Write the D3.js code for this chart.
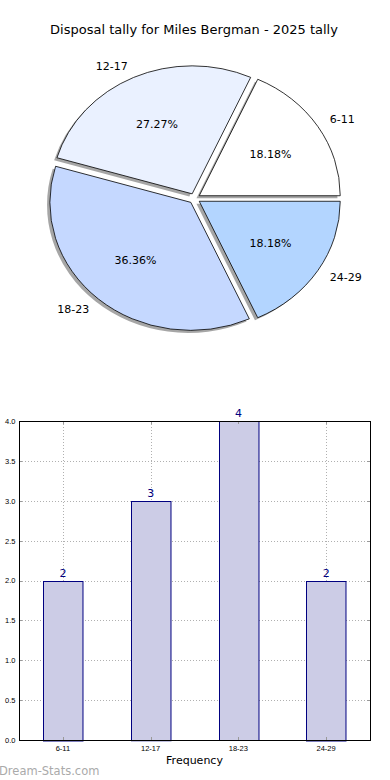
<!DOCTYPE html>
<html>
<head>
<meta charset="utf-8">
<script src="https://cdn.jsdelivr.net/npm/d3@7"></script>
<style>
  body { margin: 0; background: #fff; }
  svg { display: block; font-family: "DejaVu Sans", sans-serif; }
</style>
</head>
<body>
<div id="chart"></div>
<script>
const categories = ["6-11", "12-17", "18-23", "24-29"];
const counts = [2, 3, 4, 2];
const pieColors = ["#ffffff", "#eaf1ff", "#c5d8ff", "#b3d5ff"];
const yTicks = [0, 0.5, 1, 1.5, 2, 2.5, 3, 3.5, 4];

const title = "Disposal tally for Miles Bergman - 2025 tally";

const W = 390, H = 780;
const svg = d3.select("#chart").append("svg")
    .attr("width", W)
    .attr("height", H);

svg.append("text")
    .attr("x", 194)
    .attr("y", 34)
    .attr("text-anchor", "middle")
    .style("font-size", "13px")
    .text(title);

// ---- pie (matplotlib style: counter-clockwise from 3 o'clock, elliptical) ----
const cx = 194.5, cy = 198.5, rx = 141, ry = 128;
const explode = 0.04;
const total = d3.sum(counts);

let acc = 0;
const slices = counts.map((v, i) => {
    const t1 = acc / total * 2 * Math.PI;
    acc += v;
    const t2 = acc / total * 2 * Math.PI;
    return { i, v, t1, t2, mid: (t1 + t2) / 2 };
});

const arc = d3.arc().innerRadius(0).outerRadius(1);

const pieG = svg.append("g")
    .attr("transform", `translate(${cx},${cy}) scale(${rx},${ry})`);

// shadows first
pieG.selectAll(".shadow")
    .data(slices)
    .enter()
    .append("path")
    .attr("class", "shadow")
    .attr("transform", d => `translate(${explode * Math.cos(d.mid) - 0.02},${-explode * Math.sin(d.mid) + 0.02})`)
    .attr("d", d => arc({ startAngle: Math.PI / 2 - d.t1, endAngle: Math.PI / 2 - d.t2 }))
    .attr("fill", "#4d4d4d")
    .attr("opacity", 0.5);

pieG.selectAll(".slice")
    .data(slices)
    .enter()
    .append("path")
    .attr("class", "slice")
    .attr("transform", d => `translate(${explode * Math.cos(d.mid)},${-explode * Math.sin(d.mid)})`)
    .attr("d", d => arc({ startAngle: Math.PI / 2 - d.t1, endAngle: Math.PI / 2 - d.t2 }))
    .attr("fill", d => pieColors[d.i])
    .attr("stroke", "#000")
    .attr("stroke-width", 0.8)
    .attr("vector-effect", "non-scaling-stroke");

function piePos(d, k) {
    const c = Math.cos(d.mid), s = Math.sin(d.mid);
    return [cx + (k + explode) * c * rx, cy - (k + explode) * s * ry];
}

svg.selectAll(".pie-label")
    .data(slices)
    .enter()
    .append("text")
    .attr("x", d => piePos(d, 1.1)[0])
    .attr("y", d => piePos(d, 1.1)[1])
    .attr("dy", "0.35em")
    .attr("text-anchor", d => Math.cos(d.mid) >= 0 ? "start" : "end")
    .style("font-size", "11px")
    .text(d => categories[d.i]);

svg.selectAll(".pie-pct")
    .data(slices)
    .enter()
    .append("text")
    .attr("x", d => piePos(d, 0.6)[0])
    .attr("y", d => piePos(d, 0.6)[1])
    .attr("dy", "0.35em")
    .attr("text-anchor", "middle")
    .style("font-size", "11px")
    .text(d => (d.v / total * 100).toFixed(2) + "%");

// ---- bar chart ----
const plot = { left: 19, right: 370, top: 421, bottom: 740 };

const x = d3.scaleBand()
    .domain(categories)
    .range([plot.left, plot.right])
    .paddingInner(0.55)
    .paddingOuter(0.275);

const y = d3.scaleLinear()
    .domain([0, 4])
    .range([plot.bottom, plot.top]);

const xMid = d => Math.round(x(d) + x.bandwidth() / 2) + 0.5;
const yPix = d => Math.round(y(d)) + 0.5;

const grid = svg.append("g")
    .attr("stroke", "#b0b0b0")
    .attr("stroke-width", 1)
    .attr("stroke-dasharray", "1,2");

grid.selectAll(".hgrid")
    .data(yTicks)
    .enter()
    .append("line")
    .attr("x1", plot.left)
    .attr("x2", plot.right)
    .attr("y1", yPix)
    .attr("y2", yPix);

svg.selectAll(".bar")
    .data(categories)
    .enter()
    .append("rect")
    .attr("x", d => Math.round(x(d)) + 0.5)
    .attr("y", (d, i) => yPix(counts[i]))
    .attr("width", x.bandwidth())
    .attr("height", (d, i) => y(0) - y(counts[i]))
    .attr("fill", "#cccce6")
    .attr("stroke", "#000080")
    .attr("stroke-width", 1);

grid.selectAll(".vgrid")
    .data(categories)
    .enter()
    .append("line")
    .attr("x1", xMid)
    .attr("x2", xMid)
    .attr("y1", plot.top)
    .attr("y2", plot.bottom);

// small inward tick marks on all four sides
const ticks = svg.append("g").attr("stroke", "#999").attr("stroke-width", 1);
yTicks.forEach(t => {
    ticks.append("line").attr("x1", plot.left).attr("x2", plot.left + 3).attr("y1", yPix(t)).attr("y2", yPix(t));
    ticks.append("line").attr("x1", plot.right - 3).attr("x2", plot.right).attr("y1", yPix(t)).attr("y2", yPix(t));
});
categories.forEach(c => {
    ticks.append("line").attr("x1", xMid(c)).attr("x2", xMid(c)).attr("y1", plot.bottom - 3).attr("y2", plot.bottom);
    ticks.append("line").attr("x1", xMid(c)).attr("x2", xMid(c)).attr("y1", plot.top).attr("y2", plot.top + 3);
});

svg.selectAll(".bar-val")
    .data(categories)
    .enter()
    .append("text")
    .attr("x", d => x(d) + x.bandwidth() / 2)
    .attr("y", (d, i) => y(counts[i]) - 4)
    .attr("text-anchor", "middle")
    .attr("fill", "#000080")
    .style("font-size", "11px")
    .text((d, i) => counts[i]);

// frame
svg.append("rect")
    .attr("x", plot.left + 0.5)
    .attr("y", plot.top + 0.5)
    .attr("width", plot.right - plot.left)
    .attr("height", plot.bottom - plot.top)
    .attr("fill", "none")
    .attr("stroke", "#000")
    .attr("stroke-width", 1);

const yAxis = svg.append("g")
    .attr("transform", `translate(${plot.left + 0.5},0)`)
    .call(d3.axisLeft(y).tickValues(yTicks).tickFormat(d3.format(".1f")).tickSize(0).tickPadding(4));
yAxis.select(".domain").remove();
yAxis.selectAll("text").style("font-size", "7.5px").attr("fill", "#000");

const xAxis = svg.append("g")
    .attr("transform", `translate(0,${plot.bottom + 0.5})`)
    .call(d3.axisBottom(x).tickSize(0).tickPadding(5));
xAxis.select(".domain").remove();
xAxis.selectAll("text").style("font-size", "7.5px").attr("fill", "#000");

svg.append("text")
    .attr("x", (plot.left + plot.right) / 2)
    .attr("y", 764)
    .attr("text-anchor", "middle")
    .style("font-size", "11px")
    .text("Frequency");

svg.append("text")
    .attr("x", -1)
    .attr("y", 775)
    .attr("fill", "#aaa")
    .style("font-size", "11.5px")
    .text("Dream-Stats.com");
</script>
</body>
</html>
